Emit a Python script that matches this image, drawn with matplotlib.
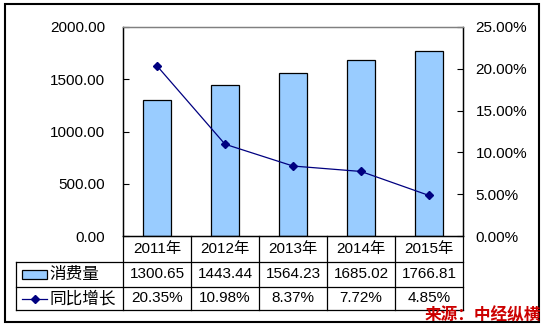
import numpy as np
import matplotlib.pyplot as plt
from matplotlib.lines import Line2D
from matplotlib.patches import Rectangle

plt.rcParams['font.family'] = ['Liberation Sans', 'Noto Sans CJK SC']

years = ['2011年', '2012年', '2013年', '2014年', '2015年']
consumption = [1300.65, 1443.44, 1564.23, 1685.02, 1766.81]
growth = [20.35, 10.98, 8.37, 7.72, 4.85]
bar_name = '消费量'
line_name = '同比增长'
source = '来源：中经纵横'

W, H = 547, 327
fig = plt.figure(figsize=(W / 100, H / 100), dpi=100)

# plot area in pixels
left, right, top, bottom = 123, 463, 27, 236
ax = fig.add_axes([left / W, 1 - bottom / H, (right - left) / W, (bottom - top) / H])
ax2 = ax.twinx()

x = np.arange(len(years))
ax.bar(x, consumption, width=0.41, color='#99CCFF', edgecolor='black', linewidth=0.9, zorder=2)
ax2.plot(x, growth, color='#000080', linewidth=0.9, marker='D', markersize=4, zorder=3)

ax.set_xlim(-0.5, len(years) - 0.5)
ax.set_ylim(0, 2000)
ax.set_yticks(np.arange(0, 2001, 500))
ax.set_yticklabels(['%.2f' % v for v in np.arange(0, 2001, 500)])
ax2.set_ylim(0, 25)
ax2.set_yticks(np.arange(0, 26, 5))
ax2.set_yticklabels(['%.2f%%' % v for v in np.arange(0, 26, 5)])
ax.set_xticks([])

fs = 11
for a in (ax, ax2):
    for s in a.spines.values():
        s.set_linewidth(0.9)
    a.spines['top'].set_color('#808080')
ax.tick_params(axis='y', direction='in', length=4, pad=13, labelsize=fs)
ax2.tick_params(axis='y', direction='in', length=4, pad=9, labelsize=fs)

# data table under the chart
tr = ax.get_xaxis_transform()
px = (right - left) / len(years)
x_lab = -0.5 - (left - 16) / px
rows = [0, -(262 - bottom) / (bottom - top), -(287 - bottom) / (bottom - top),
        -(310 - bottom) / (bottom - top)]
lkw = dict(color='black', linewidth=0.9, transform=tr, clip_on=False)
for y in rows[1:]:
    ax.add_line(Line2D([x_lab, len(years) - 0.5], [y, y], **lkw))
for xb in np.arange(len(years) + 1) - 0.5:
    ax.add_line(Line2D([xb, xb], [rows[0], rows[3]], **lkw))
ax.add_line(Line2D([x_lab, x_lab], [rows[1], rows[3]], **lkw))

mid = [(rows[i] + rows[i + 1]) / 2 for i in range(3)]
tkw = dict(transform=tr, ha='center', va='center', fontsize=fs, clip_on=False)
for i in range(len(years)):
    ax.text(x[i], mid[0], years[i], **tkw)
    ax.text(x[i], mid[1], '%.2f' % consumption[i], **tkw)
    ax.text(x[i], mid[2], '%.2f%%' % growth[i], **tkw)

# legend keys inside the table
sym_w = 25 / px
ax.add_patch(Rectangle((x_lab + 6 / px, mid[1] - 0.02), sym_w, 0.04, facecolor='#99CCFF',
                       edgecolor='black', linewidth=0.9, transform=tr, clip_on=False))
ax.add_line(Line2D([x_lab + 6 / px, x_lab + 6 / px + sym_w], [mid[2], mid[2]], color='#000080',
                   linewidth=0.9, transform=tr, clip_on=False))
ax.add_line(Line2D([x_lab + 6 / px + sym_w / 2], [mid[2]], color='#000080', marker='D',
                   markersize=4, transform=tr, clip_on=False))
ax.text(x_lab + 33 / px, mid[1], bar_name, transform=tr, ha='left', va='center', fontsize=12,
        clip_on=False)
ax.text(x_lab + 33 / px, mid[2], line_name, transform=tr, ha='left', va='center', fontsize=12,
        clip_on=False)

# outer frame
fig.add_artist(Rectangle((5 / W, 1 - 322 / H), 534 / W, 318 / H, fill=False,
                         edgecolor='black', linewidth=1.5, transform=fig.transFigure))

fig.text(541 / W, 1 - 315 / H, source, color='#CC0000', fontsize=12, fontweight='bold',
         ha='right', va='center', family=['Noto Sans CJK SC'])

fig.savefig('out.png', dpi=100)
